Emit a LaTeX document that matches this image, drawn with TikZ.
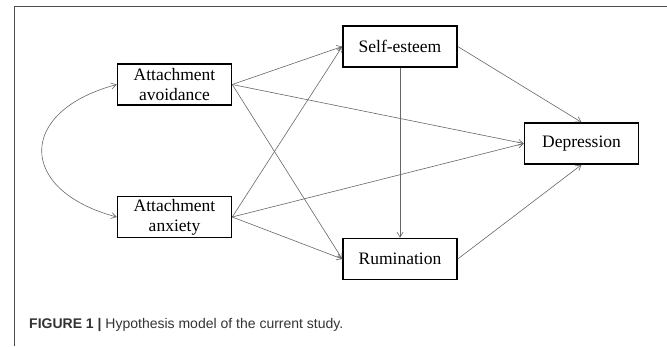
\documentclass[tikz,border=0pt]{standalone}
\usepackage{fontspec}
\setmainfont{Liberation Serif}
\setsansfont{Liberation Sans}
\usetikzlibrary{arrows.meta, positioning}

\begin{document}
\begin{tikzpicture}[
    x=1pt, y=1pt,
    >={Straight Barb[length=5pt, width=6pt]},
    varbox/.style={draw, line width=1.5pt, align=center, minimum width=114pt, minimum height=41pt, inner sep=2pt, font=\fontsize{17.5}{20}\selectfont},
    arr/.style={->, draw=black!60, line width=0.6pt},
    frameline/.style={draw=black!70, line width=1pt}
]
\useasboundingbox (0,0) rectangle (667,-346);
\draw[frameline] (14,-346) -- (14,-6.5) -- (667,-6.5);

\node[varbox] (avoid) at (174.5,-84.5) {Attachment\\avoidance};
\node[varbox] (anx) at (174.5,-217) {Attachment\\anxiety};
\node[varbox] (selfest) at (400,-46.5) {Self-esteem};
\node[varbox] (rumin) at (400,-259) {Rumination};
\node[varbox] (depr) at (581.5,-143.5) {Depression};

\draw[arr] (avoid.east) -- (selfest.west);
\draw[arr] (avoid.east) -- (depr.west);
\draw[arr] (avoid.east) -- (rumin.west);
\draw[arr] (anx.east) -- (selfest.west);
\draw[arr] (anx.east) -- (depr.west);
\draw[arr] (anx.east) -- (rumin.west);
\draw[arr] (selfest.south) -- (rumin.north);
\draw[arr] (selfest.east) -- (depr.north);
\draw[arr] (rumin.east) -- (depr.south);
\draw[arr, <->] (avoid.west) to[out=195, in=165, looseness=2] (anx.west);

\node[anchor=base west, inner sep=0pt, text=black!80, font=\sffamily\fontsize{14}{16}\selectfont] (caption) at (29,-328) {\textbf{FIGURE 1 |} Hypothesis model of the current study.};
\end{tikzpicture}
\end{document}
